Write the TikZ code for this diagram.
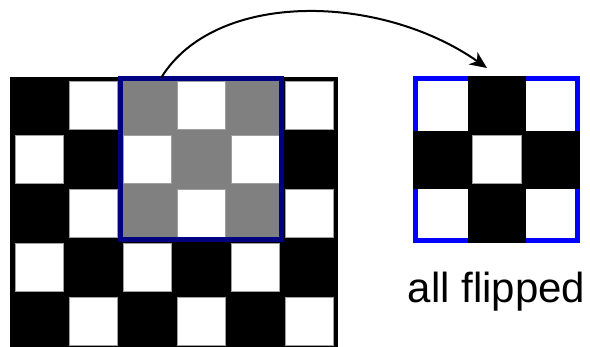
\documentclass[tikz,border=0pt]{standalone}
\usepackage{fontspec}
\setmainfont{Liberation Sans}
\usetikzlibrary{arrows.meta}
\definecolor{navyb}{RGB}{0,0,128}
\definecolor{blueb}{RGB}{0,0,255}
\definecolor{midgray}{RGB}{128,128,128}
\begin{document}
\begin{tikzpicture}[x=1pt,y=-1pt,
  whitesq/.style={fill=white,draw=gray!75,line width=0.7pt},
  selbox/.style={draw=navyb,line width=5pt,inner sep=0pt,outer sep=0pt},
  outbox/.style={draw=blueb,line width=5pt,inner sep=0pt,outer sep=0pt},
  flow/.style={line width=2pt,-{Stealth[length=17pt,width=15pt,inset=5pt]}},
  caption/.style={font=\fontsize{42}{50}\selectfont,inner sep=0pt,anchor=base}]
\useasboundingbox (0,0) rectangle (590,347);
% left board
\fill[black] (10,77) rectangle (338,347);
\fill[midgray] (121,79) rectangle (281.5,240);
\foreach \c in {0,...,5}{
  \foreach \r in {0,...,4}{
    \pgfmathtruncatemacro\s{mod(\c+\r,2)}
    \ifnum\s=1
      \draw[whitesq] ({15+54*\c},{81+54*\r}) rectangle +(48,48);
    \fi
  }
}
\node[selbox,minimum width=160.7pt,minimum height=161pt] (sel) at (201.15,159.5) {};
% right board
\node[outbox,minimum width=162pt,minimum height=162pt] (out) at (496.5,159.5) {};
\fill[black] (467.7,76) rectangle (526,243);
\fill[black] (413,130.7) rectangle (580,189);
\draw[whitesq] (472.3,135.7) rectangle (521,183.7);
% arrow
\coordinate (a) at (161,78);
\coordinate (b) at (487,68);
\draw[flow] (a) .. controls (215,-10) and (380,-7) .. (b);
% caption
\node[caption] (cap) at (496.5,303) {all flipped};
\end{tikzpicture}
\end{document}
